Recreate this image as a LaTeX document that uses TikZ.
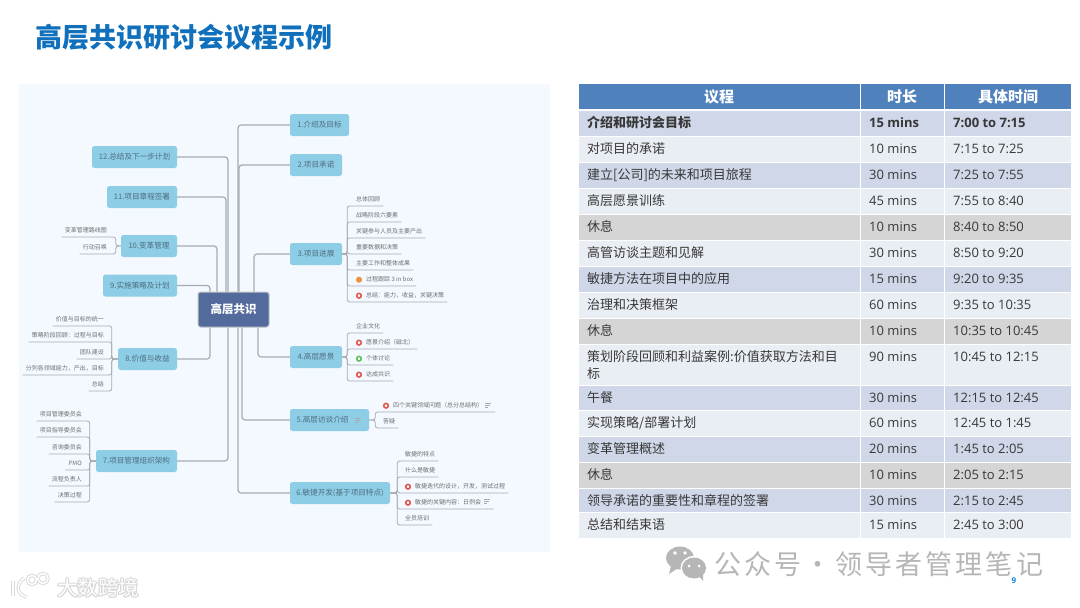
\documentclass[tikz,border=0pt]{standalone}
\usepackage{fontspec}
\setmainfont{Open Sans}
\newfontfamily\cjk{Noto Sans CJK SC}
\definecolor{panelblue}{HTML}{F3F9FE}
\definecolor{topicblue}{HTML}{8DCDE5}
\definecolor{topicink}{HTML}{4F6E82}
\definecolor{rootblue}{HTML}{536B9C}
\definecolor{linkgray}{HTML}{A6ABB3}
\definecolor{subink}{HTML}{6E7072}
\definecolor{headblue}{HTML}{4F81BD}
\definecolor{rowdark}{HTML}{CFD7E8}
\definecolor{rowlight}{HTML}{E9EDF4}
\definecolor{rowgray}{HTML}{D5D5D5}
\definecolor{titleblue}{HTML}{1070BC}
\definecolor{wmgray}{HTML}{B6B6B6}
\definecolor{halogray}{HTML}{D8D8D8}
\definecolor{markred}{HTML}{E0574F}
\definecolor{markgreen}{HTML}{62BE5E}
\definecolor{markorange}{HTML}{F0923C}
\tikzset{
  topicbox/.style={fill=topicblue,rounded corners=2.5,minimum height=22,inner sep=0,text=topicink,font=\cjk\fontsize{7.6}{9}\selectfont},
  rootbox/.style={fill=rootblue,draw=linkgray!70,line width=1,rounded corners=2.5,minimum width=71,minimum height=35,inner sep=0,text=white,font=\cjk\bfseries\fontsize{11.5}{13}\selectfont},
  mainlink/.style={draw=linkgray,line width=1.2,rounded corners=3},
  sublink/.style={draw=linkgray,line width=.8,rounded corners=2.5},
  subitem/.style={inner xsep=3,inner ysep=3,text height=5.2,text depth=1,text=subink,font=\cjk\fontsize{6}{7}\selectfont},
  redmark/.style={circle,draw=markred,fill=white,line width=1.6,minimum size=4.6,inner sep=0},
  greenmark/.style={circle,draw=markgreen,fill=white,line width=1.6,minimum size=4.6,inner sep=0},
  orangemark/.style={circle,draw=markorange,fill=markorange,line width=1,minimum size=5,inner sep=0},
  notemark/.pic={\draw[linkgray,line width=.8] (-3,-2) -- (3,-2) (-3,0) -- (2,0) (-3,2) -- (0,2);},
  celltext/.style={anchor=base west,inner sep=0,text=black!78,font=\fontsize{13}{17}\selectfont},
  agendatext/.style={anchor=north west,inner sep=0,text=black!78,font=\cjk\fontsize{13}{17}\selectfont,align=left},
  headtext/.style={inner sep=0,text=white,font=\cjk\bfseries\fontsize{15}{17}\selectfont},
}
\begin{document}
\begin{tikzpicture}[x=1pt,y=-1pt]
        \useasboundingbox (0,0) rectangle (1080,608);
        \fill[white] (0,0) rectangle (1080,608);
        % title
        \node[anchor=west,inner sep=0,text=titleblue,font=\cjk\bfseries\fontsize{27}{30}\selectfont] (title) at (35,37) {高层共识研讨会议程示例};
        % panel
        \fill[panelblue] (19,84) rectangle (550,552);
        % topics
        \node[rootbox] (root) at (233.5,309.5) {高层共识};
        \node[topicbox,minimum width=59] (t1) at (319.5,125) {1.介绍及目标};
        \node[topicbox,minimum width=52] (t2) at (316,165) {2.项目承诺};
        \node[topicbox,minimum width=52] (t3) at (316,254) {3.项目进展};
        \node[topicbox,minimum width=52] (t4) at (316,357) {4.高层愿景};
        \node[topicbox,minimum width=79] (t5) at (329.5,420) {5.高层访谈介绍\kern14pt\mbox{}};
        \node[topicbox,minimum width=100] (t6) at (340,493) {6.敏捷开发(基于项目特点)};
        \node[topicbox,minimum width=81] (t7) at (136.5,461) {7.项目管理组织架构};
        \node[topicbox,minimum width=59] (t8) at (147.5,359) {8.价值与收益};
        \node[topicbox,minimum width=74] (t9) at (140,285.5) {9.实施策略及计划};
        \node[topicbox,minimum width=56] (t10) at (149,246) {10.变革管理};
        \node[topicbox,minimum width=70] (t11) at (142,197) {11.项目章程签署};
        \node[topicbox,minimum width=85] (t12) at (134.5,157) {12.总结及下一步计划};
        % line
        \draw[mainlink] ([xshift=4.5]root.north) |- (t1.west);\draw[mainlink] ([xshift=5.5]root.north) |- (t2.west);
        \draw[mainlink] ([xshift=20.5]root.north) |- (t3.west);\draw[mainlink] ([xshift=24.5]root.south) |- (t4.west);
        \draw[mainlink] ([xshift=8.5]root.south) |- (t5.west);\draw[mainlink] ([xshift=4.5]root.south) |- (t6.west);
        \draw[mainlink] ([xshift=-5.5]root.south) |- (t7.east);\draw[mainlink] ([xshift=-23.5]root.south) |- (t8.east);
        \draw[mainlink] ([xshift=-23.5]root.north) |- (t9.east);\draw[mainlink] ([xshift=-16.5]root.north) |- (t10.east);
        \draw[mainlink] ([xshift=-7.5]root.north) |- (t11.east);\draw[mainlink] ([xshift=-5.5]root.north) |- (t12.east);
        % right items
        \foreach \i/\subtext/\xleft/\ybase in {1/总体回顾/353/206,2/战略阶段六要素/353/222,3/关键参与人员及主要产出/353/238,4/重要数据和决策/353/254,5/主要工作和整体成果/353/270,6/过程跟踪 3 in box/363/286,7/总结：能力，收益，关键决策/363/302} {
            \node[subitem,anchor=south west] (s3\i) at (\xleft,\ybase) {\subtext};
            \draw[sublink] (t3.east) -- ++(5,0) |- (s3\i.south east);
        }
        \foreach \i/\subtext/\xleft/\ybase in {1/企业文化/353/333,2/愿景介绍（磁北）/363/349,3/个体讨论/363/365,4/达成共识/363/381} {
            \node[subitem,anchor=south west] (s4\i) at (\xleft,\ybase) {\subtext};
            \draw[sublink] (t4.east) -- ++(5,0) |- (s4\i.south east);
        }
        \foreach \i/\subtext/\xleft/\ybase in {1/四个关键领域问题（总分总结构）\kern9pt\mbox{}/390/412,2/答疑/380/428} {
            \node[subitem,anchor=south west] (s5\i) at (\xleft,\ybase) {\subtext};
            \draw[sublink] (t5.east) -- ++(6,0) |- (s5\i.south east);
        }
        \foreach \i/\subtext/\xleft/\ybase in {1/敏捷的特点/402/461,2/什么是敏捷/402/477,3/敏捷迭代的设计，开发，测试过程/412/493,4/敏捷的关键内容：日例会\kern9pt\mbox{}/412/509,5/全员培训/402/525} {
            \node[subitem,anchor=south west] (s6\i) at (\xleft,\ybase) {\subtext};
            \draw[sublink] (t6.east) -- ++(7,0) |- (s6\i.south east);
        }
        % left items
        \foreach \i/\subtext/\ybase in {1/项目管理委员会/421,2/项目指导委员会/437,3/咨询委员会/454,4/PMO/470,5/流程负责人/486,6/决策过程/502} {
            \node[subitem,anchor=south east] (s7\i) at (85,\ybase) {\subtext};
            \draw[sublink] (t7.west) -- ++(-6,0) |- (s7\i.south west);
        }
        \foreach \i/\subtext/\ybase in {1/价值与目标的统一/326,2/策略阶段回顾：过程与目标/342,3/团队建设/359,4/分列各领域能力，产出，目标/375,5/总结/391} {
            \node[subitem,anchor=south east] (s8\i) at (107,\ybase) {\subtext};
            \draw[sublink] (t8.west) -- ++(-6,0) |- (s8\i.south west);
        }
        \foreach \i/\subtext/\ybase in {1/变革管理路线图/237,2/行动召唤/254} {
            \node[subitem,anchor=south east] (s10\i) at (110,\ybase) {\subtext};
            \draw[sublink] (t10.west) -- ++(-5,0) |- (s10\i.south west);
        }
        % point
        \node[orangemark] (m36) at ([xshift=-4]s36.west) {};\node[redmark] (m37) at ([xshift=-4]s37.west) {};
        \node[redmark] (m42) at ([xshift=-4]s42.west) {};\node[greenmark] (m43) at ([xshift=-4]s43.west) {};\node[redmark] (m44) at ([xshift=-4]s44.west) {};
        \node[redmark] (m51) at ([xshift=-4]s51.west) {};\node[redmark] (m63) at ([xshift=-4]s63.west) {};\node[redmark] (m64) at ([xshift=-4]s64.west) {};
        \pic at ([xshift=-11]t5.east) {notemark};
        \pic at (488,405) {notemark};\pic at (487,501.5) {notemark};
        % table
        \fill[headblue] (579,84) rectangle (859.5,109);\fill[headblue] (860.5,84) rectangle (943.5,109);\fill[headblue] (944.5,84) rectangle (1071,109);
        \node[headtext] (hagenda) at (719,97) {议程};\node[headtext] (hdur) at (902,97) {时长};\node[headtext] (hperiod) at (1008,97) {具体时间};
        \foreach \ytop/\ybot/\cellfill/\agenda/\dur/\period [count=\i] in {
            111/136/rowdark/{\bfseries 介绍和研讨会目标}/{\bfseries 15 mins}/{\bfseries 7:00 to 7:15},
            137/162/rowlight/{对项目的承诺}/{10 mins}/{7:15 to 7:25},
            163/188/rowdark/{建立[公司]的未来和项目旅程}/{30 mins}/{7:25 to 7:55},
            189/214/rowlight/{高层愿景训练}/{45 mins}/{7:55 to 8:40},
            215/240/rowgray/{休息}/{10 mins}/{8:40 to 8:50},
            241/266/rowlight/{高管访谈主题和见解}/{30 mins}/{8:50 to 9:20},
            267/292/rowdark/{敏捷方法在项目中的应用}/{15 mins}/{9:20 to 9:35},
            293/318/rowlight/{治理和决策框架}/{60 mins}/{9:35 to 10:35},
            319/344/rowgray/{休息}/{10 mins}/{10:35 to 10:45},
            345/385/rowlight/{策划阶段回顾和利益案例:价值获取方法和目\\标}/{90 mins}/{10:45 to 12:15},
            386/410/rowdark/{午餐}/{30 mins}/{12:15 to 12:45},
            411/436/rowlight/{实现策略/部署计划}/{60 mins}/{12:45 to 1:45},
            437/462/rowdark/{变革管理概述}/{20 mins}/{1:45 to 2:05},
            463/488/rowgray/{休息}/{10 mins}/{2:05 to 2:15},
            489/512/rowdark/{领导承诺的重要性和章程的签署}/{30 mins}/{2:15 to 2:45},
            513/538/rowlight/{总结和结束语}/{15 mins}/{2:45 to 3:00}} {
            \fill[\cellfill] (579,\ytop) rectangle (859.5,\ybot);\fill[\cellfill] (860.5,\ytop) rectangle (943.5,\ybot);\fill[\cellfill] (944.5,\ytop) rectangle (1071,\ybot);
            \node[agendatext] (a\i) at (587,{\ytop+4}) {\rule{0pt}{12pt}\agenda};
            \node[celltext] (d\i) at (869,{\ytop+16}) {\dur};
            \node[celltext] (p\i) at (953,{\ytop+16}) {\period};
        }
        % watermark
        \fill[wmgray] (680,558) ellipse (14pt and 11.5pt);\fill[wmgray] (671,566) -- (669,574) -- (678,568) -- cycle;
        \fill[white] (694,568) ellipse (13.5pt and 12pt);\fill[wmgray] (694,568) ellipse (12pt and 10.5pt);\fill[wmgray] (699,576) -- (703,581) -- (703,573) -- cycle;
        \fill[white] (675,553) circle (1.8pt);\fill[white] (685,553) circle (1.8pt);\fill[white] (689,566) circle (1.5pt);\fill[white] (699,566) circle (1.5pt);
        \node[anchor=west,inner sep=0,text=wmgray,font=\cjk\fontsize{27}{30}\selectfont\addfontfeatures{LetterSpace=11.5}] (wmtext) at (714,564) {公众号\hspace{3pt}·\hspace{4pt}领导者管理笔记};
        \node[inner sep=0,text=cyan!70!blue,font=\bfseries\fontsize{8}{9}\selectfont] (pageno) at (1014,581) {9};
        % logo
        \foreach \penwidth/\pencolor in {3.4/halogray,1.6/white} {
            \draw[\pencolor,line width=\penwidth] (13,581) -- (13,596);
            \draw[\pencolor,line width=\penwidth] (24,578) .. controls (15,585) and (17,595) .. (27,597);
            \draw[\pencolor,line width=\penwidth] (32,580) circle (4.6pt) (43,578.5) circle (5pt);
        }
        \foreach \xoff/\yoff in {-1/0,1/0,0/-1,0/1,-.8/-.8,.8/.8,-.8/.8,.8/-.8} {
            \node[anchor=west,inner sep=0,text=halogray,font=\cjk\fontsize{20.5}{22}\selectfont] at ({57+\xoff},{588+\yoff}) {大数跨境};
        }
        \node[anchor=west,inner sep=0,text=white,font=\cjk\fontsize{20.5}{22}\selectfont] (logotext) at (57,588) {大数跨境};
    \end{tikzpicture}
\end{document}
